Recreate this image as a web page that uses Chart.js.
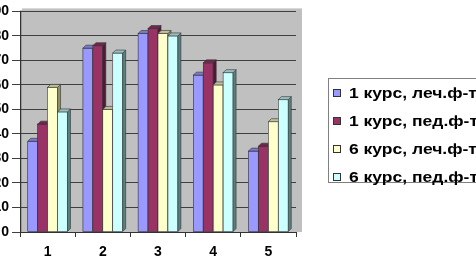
<!DOCTYPE html>
<html>
<head>
<meta charset="utf-8">
<script src="https://cdn.jsdelivr.net/npm/chart.js@4.4.0/dist/chart.umd.min.js"></script>
<style>
    html, body { margin: 0; padding: 0; background: #fff; overflow: hidden; }
    #wrap { position: absolute; left: -10px; top: 0; width: 560px; height: 260px; }
</style>
</head>
<body>
<div id="wrap"><canvas id="grafico" width="560" height="260"></canvas></div>
<script>
// dados
const categorias = ['1', '2', '3', '4', '5'];
const rotulosSeries = ['1 курс, леч.ф-т', '1 курс, пед.ф-т', '6 курс, леч.ф-т', '6 курс, пед.ф-т'];
const curso1Lech = [37, 75, 81, 64, 33];
const curso1Ped = [44, 76, 83, 69, 35];
const curso6Lech = [59, 50, 81, 60, 45];
const curso6Ped = [49, 73, 80, 65, 54];
const ticksY = [0, 10, 20, 30, 40, 50, 60, 70, 80, 90];

const coresFrente = ['#9999ff', '#993366', '#ffffcc', '#ccffff'];
const coresLado = ['#5c5c99', '#4d1a33', '#8f8f6b', '#5a7f7f'];
const coresTopo = ['#7a7acc', '#73264d', '#bfbf99', '#99bfbf'];
const profundidade = 3;

const fonteEixo = { family: 'Liberation Sans', size: 14, weight: 'bold' };

// parede de fundo cinza
const pluginParede = {
    id: 'parede',
    beforeDraw(chart) {
        const { ctx, chartArea } = chart;
        ctx.save();
        ctx.fillStyle = '#c0c0c0';
        ctx.fillRect(chartArea.left + 2, chartArea.top - 3, chartArea.right - chartArea.left + 4, chartArea.bottom - chartArea.top + 3);
        ctx.fillStyle = '#9a9a9a';
        ctx.fillRect(chartArea.left, chartArea.top - 1, 2, chartArea.bottom - chartArea.top + 1);
        ctx.restore();
    }
};

// barras com efeito 3D
const pluginBarras3D = {
    id: 'barras3d',
    afterDatasetsDraw(chart) {
        const ctx = chart.ctx;
        const d = profundidade;
        ctx.save();
        chart.data.datasets.forEach((ds, i) => {
            const meta = chart.getDatasetMeta(i);
            meta.data.forEach(bar => {
                const x0 = bar.x - bar.width / 2;
                const x1 = bar.x + bar.width / 2;
                const y = bar.y;
                const base = bar.base;
                ctx.lineWidth = 0.6;
                ctx.strokeStyle = '#333';
                // frente
                ctx.fillStyle = coresFrente[i];
                ctx.fillRect(x0, y, x1 - x0, base - y);
                ctx.strokeRect(x0, y, x1 - x0, base - y);
                // lado
                ctx.beginPath();
                ctx.moveTo(x1, y);
                ctx.lineTo(x1 + d, y - d);
                ctx.lineTo(x1 + d, base - d);
                ctx.lineTo(x1, base);
                ctx.closePath();
                ctx.fillStyle = coresLado[i];
                ctx.fill();
                ctx.stroke();
                // topo
                ctx.beginPath();
                ctx.moveTo(x0, y);
                ctx.lineTo(x0 + d, y - d);
                ctx.lineTo(x1 + d, y - d);
                ctx.lineTo(x1, y);
                ctx.closePath();
                ctx.fillStyle = coresTopo[i];
                ctx.fill();
                ctx.stroke();
            });
        });
        ctx.restore();
    }
};

// legenda desenhada à direita (sai da janela como no original)
const pluginLegenda = {
    id: 'legendaCaixa',
    afterDraw(chart) {
        const ctx = chart.ctx;
        const x = 338, y = 78, linha = 28;
        ctx.save();
        ctx.strokeStyle = '#808080';
        ctx.lineWidth = 1;
        ctx.strokeRect(x + 0.5, y + 0.5, 300, 104);
        ctx.textBaseline = 'middle';
        rotulosSeries.forEach((rotulo, i) => {
            const cy = y + 15 + i * linha;
            ctx.fillStyle = coresFrente[i];
            ctx.fillRect(x + 5, cy - 4, 8, 8);
            ctx.strokeStyle = '#333';
            ctx.strokeRect(x + 5.5, cy - 3.5, 7, 7);
            // texto um pouco esticado na horizontal, como no original
            ctx.save();
            ctx.translate(x + 21, cy + 1);
            ctx.scale(1.25, 1);
            ctx.font = 'bold 14px "Liberation Sans"';
            ctx.fillStyle = '#000';
            ctx.fillText(rotulo, 0, 0);
            ctx.restore();
        });
        ctx.restore();
    }
};

const config = {
    type: 'bar',
    data: {
        labels: categorias,
        datasets: [
            { label: rotulosSeries[0], data: curso1Lech, backgroundColor: coresFrente[0] },
            { label: rotulosSeries[1], data: curso1Ped, backgroundColor: coresFrente[1] },
            { label: rotulosSeries[2], data: curso6Lech, backgroundColor: coresFrente[2] },
            { label: rotulosSeries[3], data: curso6Ped, backgroundColor: coresFrente[3] }
        ]
    },
    options: {
        responsive: false,
        animation: false,
        devicePixelRatio: 1,
        layout: { padding: { left: 0, right: 254, top: 7, bottom: 0 } },
        categoryPercentage: 0.72,
        barPercentage: 1,
        plugins: {
            legend: { display: false },
            tooltip: { enabled: false }
        },
        scales: {
            x: {
                afterFit(scale) { scale.height = 28; },
                grid: { drawOnChartArea: false, drawTicks: true, tickLength: 5, color: '#333' },
                border: { color: '#333', width: 1 },
                ticks: { color: '#000', font: fonteEixo, padding: 7 }
            },
            y: {
                min: 0,
                max: 90,
                afterFit(scale) { scale.width = 30; },
                afterBuildTicks(scale) { scale.ticks = ticksY.map(v => ({ value: v })); },
                grid: { color: '#3f3f3f', lineWidth: 1, tickLength: 8 },
                border: { color: '#333', width: 1 },
                ticks: { color: '#000', font: fonteEixo, padding: 3 }
            }
        }
    },
    plugins: [pluginParede, pluginBarras3D, pluginLegenda]
};

new Chart(document.getElementById('grafico').getContext('2d'), config);
</script>
</body>
</html>
